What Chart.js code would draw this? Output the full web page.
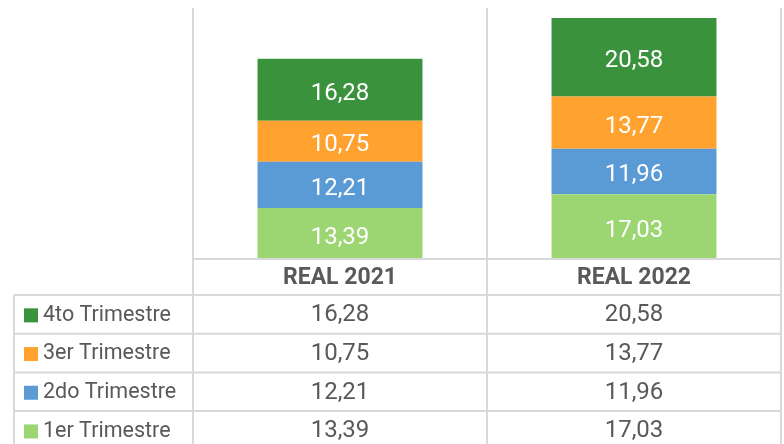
<!DOCTYPE html>
<html><head><meta charset="utf-8">
<script src="https://cdn.jsdelivr.net/npm/chart.js@4.4.1/dist/chart.umd.min.js"></script>
<style>html,body{margin:0;padding:0;background:#fff;}canvas{display:block;}</style>
</head><body>
<canvas id="c" width="784" height="444"></canvas>
<script>
const categories = ["REAL 2021", "REAL 2022"];
const seriesNames = ["1er Trimestre", "2do Trimestre", "3er Trimestre", "4to Trimestre"];
const q1 = [13.39, 17.03];
const q2 = [12.21, 11.96];
const q3 = [10.75, 13.77];
const q4 = [16.28, 20.58];
const colors = ["#9CD672", "#5B9BD5", "#FFA22F", "#3A923C"];
const yMax = 66;

const fmt = v => v.toFixed(2).replace('.', ',');
const FONT = 'Roboto, "Noto Sans", sans-serif';
const GRID = '#D9D9D9';
const TEXT = '#595959';

const tablePlugin = {
  id: 'tbl',
  beforeDatasetsDraw(chart) {
    const ctx = chart.ctx, a = chart.chartArea, xs = chart.scales.x;
    ctx.save();
    ctx.strokeStyle = GRID; ctx.lineWidth = 2;
    const half = (xs.getPixelForValue(1) - xs.getPixelForValue(0)) / 2;
    const bounds = [xs.getPixelForValue(0) - half, xs.getPixelForValue(0) + half, xs.getPixelForValue(1) + half];
    bounds.forEach(x => { ctx.beginPath(); ctx.moveTo(x, a.top); ctx.lineTo(x, chart.height); ctx.stroke(); });
    ctx.restore();
  },
  afterDatasetsDraw(chart) {
    const ctx = chart.ctx, a = chart.chartArea, xs = chart.scales.x;
    ctx.save();
    ctx.fillStyle = '#fff';
    ctx.font = '24px ' + FONT;
    ctx.textAlign = 'center'; ctx.textBaseline = 'middle';
    chart.data.datasets.forEach((ds, di) => {
      const meta = chart.getDatasetMeta(di);
      meta.data.forEach((bar, i) => {
        const y = (bar.y + bar.base) / 2 + 4;
        ctx.fillText(fmt(ds.data[i]), bar.x, y);
      });
    });
    const half = (xs.getPixelForValue(1) - xs.getPixelForValue(0)) / 2;
    const left = 14, right = xs.getPixelForValue(1) + half, colL = xs.getPixelForValue(0) - half;
    const headTop = a.bottom, headH = 36, rowH = 38.7;
    ctx.strokeStyle = GRID; ctx.lineWidth = 2;
    ctx.beginPath(); ctx.moveTo(colL, headTop); ctx.lineTo(right, headTop); ctx.stroke();
    for (let r = 0; r <= 4; r++) {
      const y = headTop + headH + r * rowH;
      ctx.beginPath(); ctx.moveTo(left, y); ctx.lineTo(right, y); ctx.stroke();
    }
    ctx.beginPath(); ctx.moveTo(left, headTop + headH); ctx.lineTo(left, chart.height); ctx.stroke();
    ctx.fillStyle = TEXT;
    ctx.font = 'bold 23px ' + FONT;
    categories.forEach((c, i) => ctx.fillText(c, xs.getPixelForValue(i), headTop + headH / 2 + 1));
    const order = [3, 2, 1, 0];
    order.forEach((di, r) => {
      const ds = chart.data.datasets[di];
      const cy = headTop + headH + r * rowH + rowH / 2 + 1;
      ctx.fillStyle = ds.backgroundColor;
      ctx.fillRect(24, cy - 7, 14, 14);
      ctx.fillStyle = TEXT;
      ctx.textAlign = 'left';
      ctx.font = '21.5px ' + FONT;
      ctx.fillText(ds.label, 43, cy);
      ctx.textAlign = 'center';
      ctx.font = '24px ' + FONT;
      ds.data.forEach((v, i) => ctx.fillText(fmt(v), xs.getPixelForValue(i), cy));
    });
    ctx.restore();
  }
};

const seriesData = [q1, q2, q3, q4];
new Chart(document.getElementById('c'), {
  type: 'bar',
  data: {
    labels: categories,
    datasets: seriesNames.map((n, i) => ({
      label: n, data: seriesData[i], backgroundColor: colors[i],
      borderWidth: 0, barPercentage: 1, categoryPercentage: 0.561
    }))
  },
  options: {
    responsive: false, animation: false,
    layout: { padding: { left: 193, right: 3, top: 8, bottom: 185 } },
    plugins: { legend: { display: false }, tooltip: { enabled: false } },
    scales: {
      x: { stacked: true, display: false },
      y: { stacked: true, display: false, min: 0, max: yMax }
    }
  },
  plugins: [tablePlugin]
});
</script>
</body></html>
